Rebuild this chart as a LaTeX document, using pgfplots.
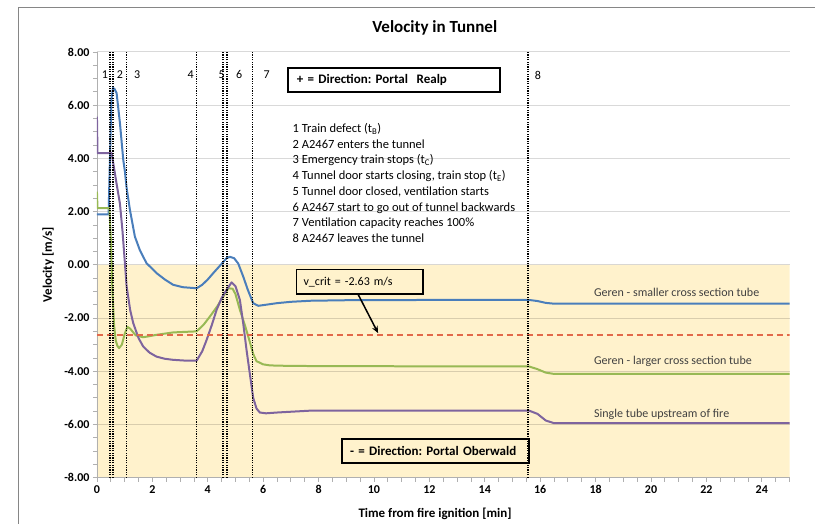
\documentclass[border=0pt]{standalone}
\usepackage{fontspec}
\setmainfont{Carlito}
\usepackage{pgfplots}
\pgfplotsset{compat=1.18}
\usetikzlibrary{arrows.meta}
\definecolor{cblue}{HTML}{4A7EBB}
\definecolor{cgreen}{HTML}{98B954}
\definecolor{cpurple}{HTML}{7E649E}
\definecolor{cred}{HTML}{E2694A}
\definecolor{cream}{HTML}{FFF2CC}
\definecolor{txt}{HTML}{404040}
\definecolor{axisgray}{HTML}{B0B0B0}
\definecolor{framegray}{HTML}{868686}
\newcommand{\fs}[1]{\fontsize{#1}{#1}\selectfont}
\frenchspacing
\begin{document}
\begin{tikzpicture}
\draw[framegray, line width=1pt] (18.3pt,0pt) -- (18.3pt,516.7pt) -- (815pt,516.7pt);
\begin{axis}[
  at={(97pt,46pt)}, anchor=south west,
  width=693pt, height=426pt, scale only axis,
  xmin=0, xmax=25, ymin=-8, ymax=8,
  set layers,
  axis x line=bottom, axis y line=left,
  axis line style={-, draw=axisgray, line width=0.8pt},
  xtick={0,2,...,24}, ytick={-8,-6,...,8},
  minor xtick={0,0.5,...,25}, minor ytick={-8,-7.5,...,8},
  tick align=outside, major tick length=4pt, minor tick length=4pt,
  tick style={axisgray, line width=0.8pt},
  ymajorgrids, major grid style={black, opacity=0.15, line width=1pt},
  /pgf/number format/assume math mode=true,
  ticklabel style={font=\bfseries\fs{12}},
  y tick label style={/pgf/number format/.cd, fixed, fixed zerofill, precision=2, /tikz/.cd},
]
% background area (negative direction)
\addplot[on layer=axis background, fill=cream, draw=none] coordinates {(0,-8) (25,-8) (25,0) (0,0) (0,-8)};

% Geren - smaller cross section tube
\addplot[cblue, line width=2pt, line join=round] coordinates {
(0,1.9) (0.42,1.9) (0.47,4.0) (0.52,6.2) (0.58,6.65) (0.64,6.6) (0.71,6.45) (0.83,5.33) (0.95,3.95) (1.01,3.5) (1.07,2.9) (1.19,2.07) (1.37,1.06) (1.55,0.55) (1.79,0.06) (2.0,-0.15) (2.15,-0.31) (2.45,-0.55) (2.75,-0.75) (3.1,-0.84) (3.6,-0.88) (3.8,-0.75) (4.0,-0.55) (4.2,-0.31) (4.45,-0.02) (4.68,0.25) (4.8,0.3) (4.95,0.25) (5.1,0.05) (5.28,-0.44) (5.45,-0.95) (5.64,-1.44) (5.82,-1.54) (6.1,-1.5) (6.5,-1.44) (7.0,-1.39) (7.7,-1.35) (9,-1.33) (12,-1.32) (15.6,-1.32) (15.9,-1.36) (16.2,-1.43) (16.5,-1.46) (20,-1.46) (25,-1.46)};

% Geren - larger cross section tube
\addplot[cgreen, line width=2pt, line join=round] coordinates {
(0,2.75) (0.02,2.13) (0.45,2.13) (0.5,1.0) (0.56,-1.0) (0.62,-2.3) (0.68,-2.85) (0.74,-3.05) (0.8,-3.13) (0.9,-3.0) (1.0,-2.6) (1.1,-2.33) (1.2,-2.4) (1.4,-2.65) (1.67,-2.72) (1.9,-2.68) (2.15,-2.63) (2.75,-2.54) (3.6,-2.5) (3.85,-2.25) (4.08,-1.94) (4.35,-1.55) (4.56,-1.19) (4.74,-0.88) (4.9,-0.9) (5.0,-1.1) (5.16,-1.69) (5.35,-2.3) (5.52,-2.9) (5.64,-3.35) (5.76,-3.62) (6.0,-3.74) (6.25,-3.78) (7,-3.8) (10,-3.81) (15.6,-3.82) (15.9,-3.92) (16.2,-4.05) (16.5,-4.1) (25,-4.1)};

% Single tube upstream of fire
\addplot[cpurple, line width=2pt, line join=round] coordinates {
(0,5.57) (0.02,4.2) (0.53,4.2) (0.6,3.75) (0.7,3.1) (0.83,2.3) (0.92,1.3) (1.01,0.06) (1.07,-0.8) (1.2,-1.7) (1.31,-2.19) (1.5,-2.75) (1.67,-3.07) (1.9,-3.3) (2.15,-3.45) (2.45,-3.53) (2.75,-3.57) (3.2,-3.6) (3.6,-3.6) (3.8,-3.25) (3.96,-2.82) (4.15,-2.25) (4.32,-1.69) (4.5,-1.25) (4.68,-0.94) (4.86,-0.66) (5.0,-0.8) (5.16,-1.32) (5.28,-2.2) (5.4,-3.2) (5.52,-4.1) (5.64,-5.0) (5.76,-5.4) (5.88,-5.55) (6.1,-5.58) (6.5,-5.55) (7.7,-5.48) (10,-5.48) (15.6,-5.48) (15.9,-5.6) (16.2,-5.85) (16.5,-5.95) (25,-5.95)};

% critical velocity
\addplot[cred, line width=2pt, dash pattern=on 6pt off 4pt] coordinates {(0,-2.63) (25,-2.63)};

% event lines
\addplot[black, line width=1.6pt, dash pattern=on 1.2pt off 1.2pt] coordinates {(0.47,-8) (0.47,8)};
\addplot[black, line width=1.6pt, dash pattern=on 1.2pt off 1.2pt] coordinates {(0.58,-8) (0.58,8)};
\addplot[black, line width=1.6pt, dash pattern=on 1.2pt off 1.2pt] coordinates {(1.07,-8) (1.07,8)};
\addplot[black, line width=1.6pt, dash pattern=on 1.2pt off 1.2pt] coordinates {(3.6,-8) (3.6,8)};
\addplot[black, line width=1.6pt, dash pattern=on 1.2pt off 1.2pt] coordinates {(4.56,-8) (4.56,8)};
\addplot[black, line width=1.6pt, dash pattern=on 1.2pt off 1.2pt] coordinates {(4.69,-8) (4.69,8)};
\addplot[black, line width=1.6pt, dash pattern=on 1.2pt off 1.2pt] coordinates {(5.61,-8) (5.61,8)};
\addplot[black, line width=1.6pt, dash pattern=on 1.2pt off 1.2pt] coordinates {(15.56,-8) (15.56,8)};
\end{axis}

% titles
\node[anchor=base, inner sep=0pt, font=\bfseries\fs{17}] at (435pt,491.3pt) {Velocity in Tunnel};
\node[inner sep=0pt, font=\bfseries\fs{13}] at (435.3pt,9.7pt) {Time from fire ignition [min]};
\node[inner sep=0pt, rotate=90, font=\bfseries\fs{13}] at (48.3pt,259pt) {Velocity [m/s]};

% event numbers
\foreach \xx/\lab in {105/1,120/2,137.3/3,190.7/4,221.7/5,239.3/6,266.7/7,538.3/8}
  \node[inner sep=0pt, font=\fs{12}] at (\xx pt,449pt) {\lab};

% direction boxes
\node[draw, line width=2pt, anchor=west, minimum height=24pt, text width=194pt, inner xsep=9.3pt, inner ysep=0pt, align=left, font=\bfseries\fs{13}] at (286.7pt,443.7pt) {+ = Direction: Portal\ \ Realp};
\node[draw, line width=2pt, anchor=west, minimum height=24pt, text width=171.4pt, inner xsep=7.6pt, inner ysep=0pt, align=left, font=\bfseries\fs{13}] at (341.7pt,73.1pt) {- = Direction: Portal Oberwald};

% event list
\foreach \yy/\tx in {391.7/{1 Train defect (t\textsubscript{B})},
                     375.9/{2 A2467 enters the tunnel},
                     360.1/{3 Emergency train stops (t\textsubscript{C})},
                     344.3/{4 Tunnel door starts closing, train stop (t\textsubscript{E})},
                     328.5/{5 Tunnel door closed, ventilation starts},
                     312.7/{6 A2467 start to go out of tunnel backwards},
                     296.9/{7 Ventilation capacity reaches 100\%},
                     281.1/{8 A2467 leaves the tunnel}}
  \node[anchor=base west, inner sep=0pt, font=\fs{12.5}] at (292.7pt,\yy pt) {\tx};

% v_crit annotation
\node[draw, line width=1.5pt, anchor=west, minimum height=24.5pt, text width=112.3pt, inner xsep=7pt, inner ysep=0pt, align=left, font=\fs{12}] at (296pt,242pt) {v\_crit = -2.63 m/s};
\draw[line width=1.5pt, -{Stealth[length=7pt,width=6pt]}] (358.3pt,229.5pt) -- (378.3pt,190.7pt);

% curve labels
\node[anchor=base west, inner sep=0pt, text=txt, font=\fs{12}] at (594.3pt,227.7pt) {Geren - smaller cross section tube};
\node[anchor=base west, inner sep=0pt, text=txt, font=\fs{12}] at (594.3pt,159pt) {Geren - larger cross section tube};
\node[anchor=base west, inner sep=0pt, text=txt, font=\fs{12}] at (594.3pt,106.7pt) {Single tube upstream of fire};
\path (0pt,0pt) rectangle (815pt,524pt);
\end{tikzpicture}
\end{document}
